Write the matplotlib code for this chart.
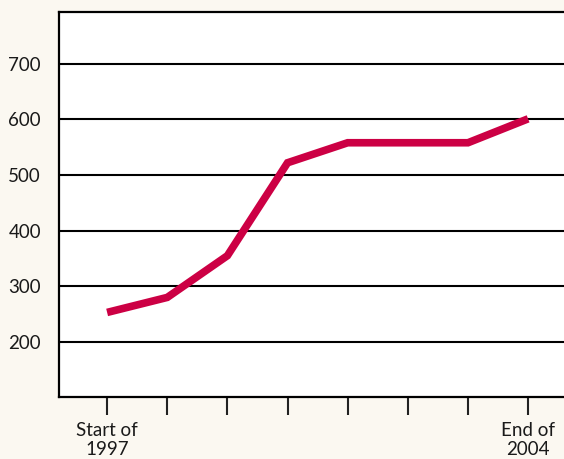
import matplotlib.pyplot as plt

# values (approx.)
periods = [0, 1, 2, 3, 4, 5, 6, 7]
values = [253, 280, 355, 522, 558, 558, 558, 601]
y_ticks = [200, 300, 400, 500, 600, 700]
x_labels = ['Start of\n1997', '', '', '', '', '', '', 'End of\n2004']

plt.rcParams['font.family'] = ['Lato', 'DejaVu Sans']

bg = '#fbf8f1'
fig = plt.figure(figsize=(5.64, 4.59), dpi=100, facecolor=bg)
ax = fig.add_axes([59 / 564, 62 / 459, 510 / 564, 385 / 459])
ax.set_facecolor('white')

ax.plot(periods, values, color='#cc0044', linewidth=5.5, solid_capstyle='butt',
        solid_joinstyle='miter', zorder=3)

ax.set_xlim(-0.8, 7.68)
ax.set_ylim(101, 793)

ax.set_yticks(y_ticks)
ax.set_yticklabels([str(v) for v in y_ticks], fontsize=13.5, color='#1a1a1a')
ax.yaxis.grid(True, color='black', linewidth=1.5)
ax.set_axisbelow(True)
ax.tick_params(axis='y', length=0, pad=13)

ax.set_xticks(periods)
ax.set_xticklabels(x_labels, fontsize=13.5, color='#1a1a1a', linespacing=1.15)
ax.tick_params(axis='x', length=13, width=1.5, direction='out', pad=5, color='#222222')

for side in ['left', 'top', 'bottom']:
    ax.spines[side].set_linewidth(1.6)
    ax.spines[side].set_color('black')
ax.spines['right'].set_visible(False)

fig.savefig('out.png', dpi=100, facecolor=bg)
